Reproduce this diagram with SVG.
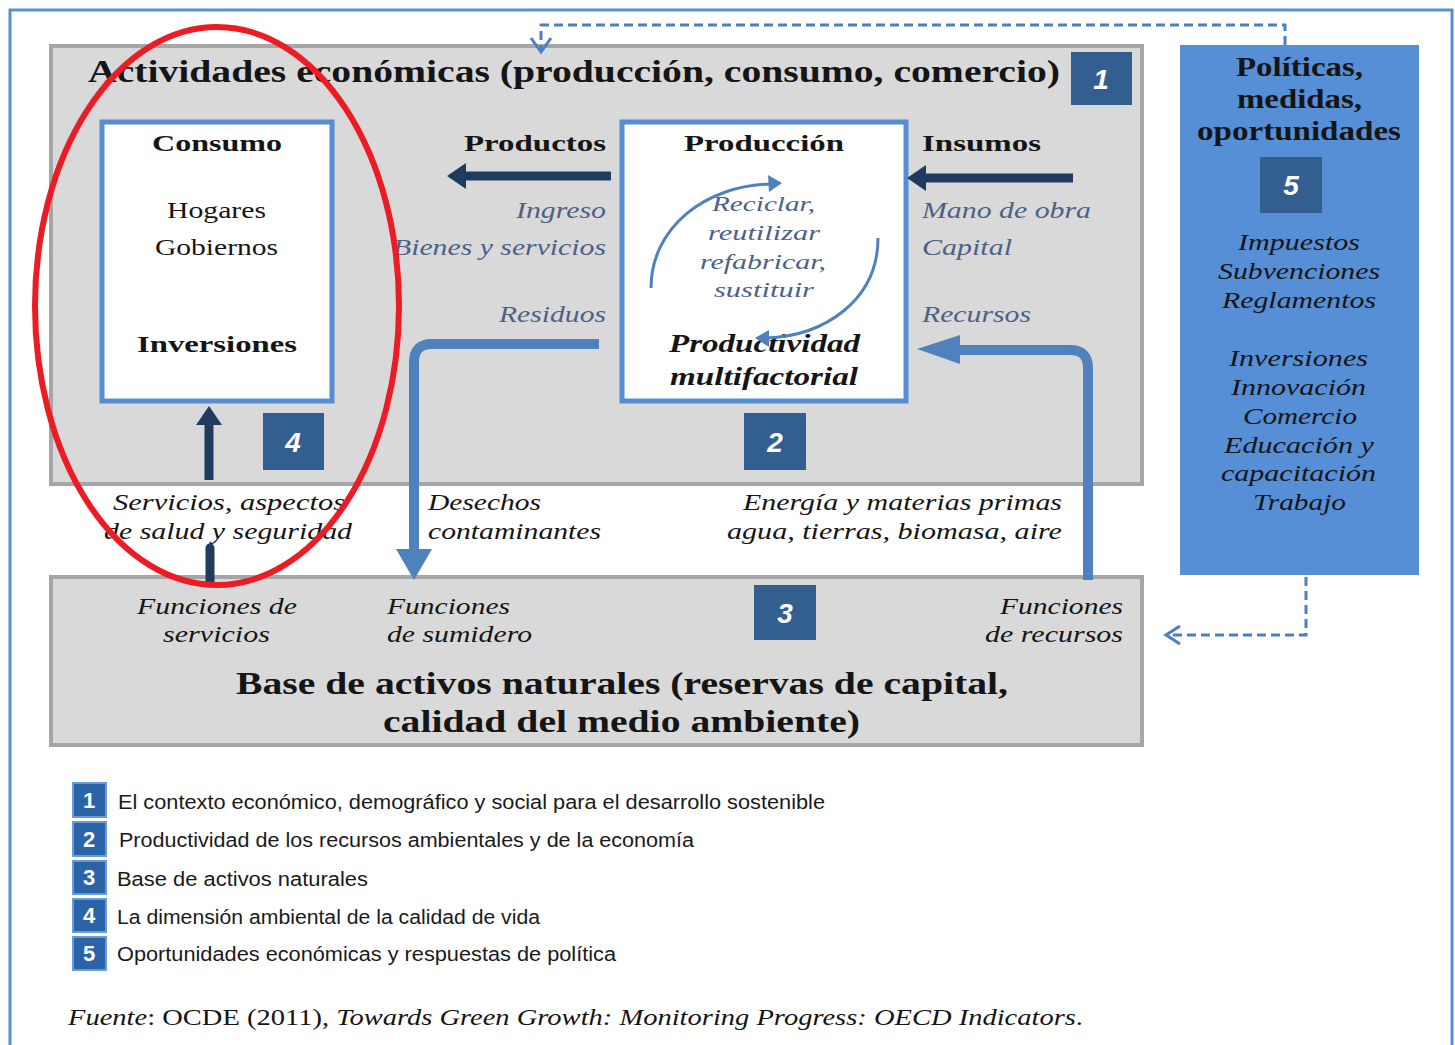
<svg xmlns="http://www.w3.org/2000/svg" width="1455" height="1045" viewBox="0 0 1455 1045">
<style>
.serif{font-family:"Times New Roman","Liberation Serif",Tinos,serif}
.b{font-weight:bold}
.i{font-style:italic}
.dark{fill:#151515}
.slate{fill:#4d6186}
.num{font-family:"Liberation Sans",Arial,sans-serif;font-weight:bold;font-style:italic;fill:#fff;font-size:28px}
.nbox{fill:#335e90}
.lgbox{fill:#2a63a8;stroke:#6b9ad6;stroke-width:2}
.lgnum{font-family:"Liberation Sans Narrow","Liberation Sans",Arial,sans-serif;font-weight:bold;fill:#fff;font-size:22px}
.lg{font-family:"Liberation Sans Narrow","Liberation Sans",Arial,sans-serif;font-size:20px;fill:#1a1a1a}
.gray{fill:#d9d9d9;stroke:#a6a6a6;stroke-width:4}
.white{fill:#fff;stroke:#558ed5;stroke-width:5}
.navy{stroke:#1f3b5e;stroke-width:9;fill:none}
.navyh{fill:#1f3b5e}
.lb{stroke:#4f81bd;stroke-width:10;fill:none}
.lbh{fill:#4f81bd}
.dash{stroke:#4a7fc4;stroke-width:3;fill:none;stroke-dasharray:9 5}
.open{stroke:#4a7fc4;stroke-width:3;fill:none}
</style>

<rect x="10" y="10" width="1442" height="1060" fill="none" stroke="#5b8fd2" stroke-width="3"/>

<g id="activities">
<rect class="gray" x="51" y="46" width="1091" height="438"/>
<text class="serif b dark" x="88" y="82" font-size="32" textLength="972" lengthAdjust="spacingAndGlyphs">Actividades económicas (producción, consumo, comercio)</text>
<rect class="nbox" x="1071" y="52" width="61" height="53"/>
<text class="num" x="1101" y="89" text-anchor="middle">1</text>
</g>

<g id="consumo">
<rect class="white" x="102" y="122" width="230" height="279"/>
<text class="serif b dark" x="152" y="151" font-size="24" textLength="130" lengthAdjust="spacingAndGlyphs">Consumo</text>
<text class="serif dark" x="167" y="218" font-size="24" textLength="99" lengthAdjust="spacingAndGlyphs">Hogares</text>
<text class="serif dark" x="155" y="255" font-size="24" textLength="123" lengthAdjust="spacingAndGlyphs">Gobiernos</text>
<text class="serif b dark" x="137" y="352" font-size="24" textLength="160" lengthAdjust="spacingAndGlyphs">Inversiones</text>
<rect class="nbox" x="263" y="413" width="61" height="57"/>
<text class="num" x="293" y="452" text-anchor="middle">4</text>
</g>

<g id="produccion">
<rect class="white" x="622" y="122" width="284" height="279"/>
<text class="serif b dark" x="684" y="151" font-size="24" textLength="160" lengthAdjust="spacingAndGlyphs">Producción</text>
<text class="serif i slate" x="712" y="211" font-size="22" textLength="103" lengthAdjust="spacingAndGlyphs">Reciclar,</text>
<text class="serif i slate" x="708" y="240" font-size="22" textLength="112" lengthAdjust="spacingAndGlyphs">reutilizar</text>
<text class="serif i slate" x="700" y="269" font-size="22" textLength="126" lengthAdjust="spacingAndGlyphs">refabricar,</text>
<text class="serif i slate" x="714" y="297" font-size="22" textLength="100" lengthAdjust="spacingAndGlyphs">sustituir</text>
<text class="serif b i dark" x="669" y="352" font-size="25" textLength="191" lengthAdjust="spacingAndGlyphs">Productividad</text>
<text class="serif b i dark" x="670" y="385" font-size="25" textLength="188" lengthAdjust="spacingAndGlyphs">multifactorial</text>
<rect class="nbox" x="744" y="413" width="62" height="57"/>
<text class="num" x="775" y="452" text-anchor="middle">2</text>
</g>

<g id="labels-flows">
<text class="serif b dark" x="464" y="151" font-size="24" textLength="142" lengthAdjust="spacingAndGlyphs">Productos</text>
<text class="serif i slate" x="516" y="218" font-size="23" textLength="90" lengthAdjust="spacingAndGlyphs">Ingreso</text>
<text class="serif i slate" x="393" y="255" font-size="23" textLength="213" lengthAdjust="spacingAndGlyphs">Bienes y servicios</text>
<text class="serif i slate" x="499" y="322" font-size="23" textLength="107" lengthAdjust="spacingAndGlyphs">Residuos</text>
<text class="serif b dark" x="922" y="151" font-size="24" textLength="119" lengthAdjust="spacingAndGlyphs">Insumos</text>
<text class="serif i slate" x="922" y="218" font-size="23" textLength="169" lengthAdjust="spacingAndGlyphs">Mano de obra</text>
<text class="serif i slate" x="922" y="255" font-size="23" textLength="90" lengthAdjust="spacingAndGlyphs">Capital</text>
<text class="serif i slate" x="922" y="322" font-size="23" textLength="109" lengthAdjust="spacingAndGlyphs">Recursos</text>
<text class="serif i dark" x="113" y="510" font-size="23" textLength="232" lengthAdjust="spacingAndGlyphs">Servicios, aspectos</text>
<text class="serif i dark" x="104" y="539" font-size="23" textLength="248" lengthAdjust="spacingAndGlyphs">de salud y seguridad</text>
<text class="serif i dark" x="428" y="510" font-size="23" textLength="113" lengthAdjust="spacingAndGlyphs">Desechos</text>
<text class="serif i dark" x="428" y="539" font-size="23" textLength="173" lengthAdjust="spacingAndGlyphs">contaminantes</text>
<text class="serif i dark" x="743" y="510" font-size="23" textLength="319" lengthAdjust="spacingAndGlyphs">Energía y materias primas</text>
<text class="serif i dark" x="727" y="539" font-size="23" textLength="335" lengthAdjust="spacingAndGlyphs">agua, tierras, biomasa, aire</text>
</g>

<g id="base-natural">
<rect class="gray" x="51" y="577" width="1091" height="168"/>
<text class="serif i dark" x="137" y="614" font-size="23" textLength="160" lengthAdjust="spacingAndGlyphs">Funciones de</text>
<text class="serif i dark" x="163" y="642" font-size="23" textLength="107" lengthAdjust="spacingAndGlyphs">servicios</text>
<text class="serif i dark" x="387" y="614" font-size="23" textLength="123" lengthAdjust="spacingAndGlyphs">Funciones</text>
<text class="serif i dark" x="387" y="642" font-size="23" textLength="145" lengthAdjust="spacingAndGlyphs">de sumidero</text>
<text class="serif i dark" x="1000" y="614" font-size="23" textLength="123" lengthAdjust="spacingAndGlyphs">Funciones</text>
<text class="serif i dark" x="985" y="642" font-size="23" textLength="138" lengthAdjust="spacingAndGlyphs">de recursos</text>
<rect class="nbox" x="754" y="585" width="62" height="55"/>
<text class="num" x="785" y="623" text-anchor="middle">3</text>
<text class="serif b dark" x="236" y="694" font-size="32" textLength="772" lengthAdjust="spacingAndGlyphs">Base de activos naturales (reservas de capital,</text>
<text class="serif b dark" x="383" y="732" font-size="32" textLength="477" lengthAdjust="spacingAndGlyphs">calidad del medio ambiente)</text>
</g>

<g id="politicas">
<rect x="1180" y="45" width="239" height="530" fill="#568fd5"/>
<text class="serif b dark" x="1236" y="76" font-size="27" textLength="127" lengthAdjust="spacingAndGlyphs">Políticas,</text>
<text class="serif b dark" x="1237" y="108" font-size="27" textLength="125" lengthAdjust="spacingAndGlyphs">medidas,</text>
<text class="serif b dark" x="1197" y="140" font-size="27" textLength="204" lengthAdjust="spacingAndGlyphs">oportunidades</text>
<rect class="nbox" x="1260" y="157" width="62" height="56"/>
<text class="num" x="1291" y="195" text-anchor="middle">5</text>
<text class="serif i dark" x="1238" y="250" font-size="23" textLength="122" lengthAdjust="spacingAndGlyphs">Impuestos</text>
<text class="serif i dark" x="1218" y="279" font-size="23" textLength="162" lengthAdjust="spacingAndGlyphs">Subvenciones</text>
<text class="serif i dark" x="1222" y="308" font-size="23" textLength="154" lengthAdjust="spacingAndGlyphs">Reglamentos</text>
<text class="serif i dark" x="1229" y="366" font-size="23" textLength="139" lengthAdjust="spacingAndGlyphs">Inversiones</text>
<text class="serif i dark" x="1231" y="395" font-size="23" textLength="135" lengthAdjust="spacingAndGlyphs">Innovación</text>
<text class="serif i dark" x="1243" y="424" font-size="23" textLength="114" lengthAdjust="spacingAndGlyphs">Comercio</text>
<text class="serif i dark" x="1224" y="453" font-size="23" textLength="150" lengthAdjust="spacingAndGlyphs">Educación y</text>
<text class="serif i dark" x="1221" y="481" font-size="23" textLength="155" lengthAdjust="spacingAndGlyphs">capacitación</text>
<text class="serif i dark" x="1253" y="510" font-size="23" textLength="93" lengthAdjust="spacingAndGlyphs">Trabajo</text>
</g>

<g id="connectors">
<line class="navy" x1="611" y1="176" x2="462" y2="176"/>
<polygon class="navyh" points="447,176 466,163 466,189"/>
<line class="navy" x1="1073" y1="178" x2="924" y2="178"/>
<polygon class="navyh" points="907,178 926,165 926,191"/>
<line class="navy" x1="209" y1="480" x2="209" y2="422"/>
<polygon class="navyh" points="209,406 196,425 222,425"/>
<line class="navy" x1="210" y1="548" x2="210" y2="581" stroke-linecap="round"/>
<path class="lb" d="M599,344 H432 Q414,344 414,362 V552"/>
<polygon class="lbh" points="396,549 432,549 414,580"/>
<path class="lb" d="M1088,580 V368 Q1088,350 1070,350 H956"/>
<polygon class="lbh" points="917,349 960,335 960,364"/>
<path d="M651,288 C651,228 705,185 772,184" stroke="#4f81bd" stroke-width="3" fill="none"/>
<polygon class="lbh" points="782,183 768,175 769,192"/>
<path d="M878,238 C878,300 825,336 766,338" stroke="#4f81bd" stroke-width="3" fill="none"/>
<polygon class="lbh" points="755,338 769,330 769,347"/>
<path class="dash" d="M1285,45 V25 H541 V50"/>
<polyline class="open" points="531,38 541,52 551,38"/>
<path class="dash" d="M1306,577 V635 H1168"/>
<polyline class="open" points="1180,626 1166,635 1180,644"/>
</g>

<ellipse id="highlight" cx="217" cy="306" rx="182" ry="279" fill="none" stroke="#ec1c24" stroke-width="6"/>

<g id="legend">
<rect class="lgbox" x="73" y="783" width="33" height="34"/>
<text class="lgnum" x="89" y="808" text-anchor="middle">1</text>
<text class="lg" x="118" y="809" textLength="707" lengthAdjust="spacingAndGlyphs">El contexto económico, demográfico y social para el desarrollo sostenible</text>
<rect class="lgbox" x="73" y="822" width="33" height="34"/>
<text class="lgnum" x="89" y="847" text-anchor="middle">2</text>
<text class="lg" x="119" y="847" textLength="575" lengthAdjust="spacingAndGlyphs">Productividad de los recursos ambientales y de la economía</text>
<rect class="lgbox" x="73" y="861" width="33" height="33"/>
<text class="lgnum" x="89" y="885" text-anchor="middle">3</text>
<text class="lg" x="117" y="886" textLength="251" lengthAdjust="spacingAndGlyphs">Base de activos naturales</text>
<rect class="lgbox" x="73" y="899" width="33" height="33"/>
<text class="lgnum" x="89" y="923" text-anchor="middle">4</text>
<text class="lg" x="117" y="924" textLength="423" lengthAdjust="spacingAndGlyphs">La dimensión ambiental de la calidad de vida</text>
<rect class="lgbox" x="73" y="937" width="33" height="33"/>
<text class="lgnum" x="89" y="961" text-anchor="middle">5</text>
<text class="lg" x="117" y="961" textLength="499" lengthAdjust="spacingAndGlyphs">Oportunidades económicas y respuestas de política</text>
</g>

<g id="source">
<text class="serif dark" x="68" y="1025" font-size="23" textLength="1015" lengthAdjust="spacingAndGlyphs"><tspan font-style="italic">Fuente</tspan>: OCDE (2011), <tspan font-style="italic">Towards Green Growth: Monitoring Progress: OECD Indicators</tspan>.</text>
</g>
</svg>
